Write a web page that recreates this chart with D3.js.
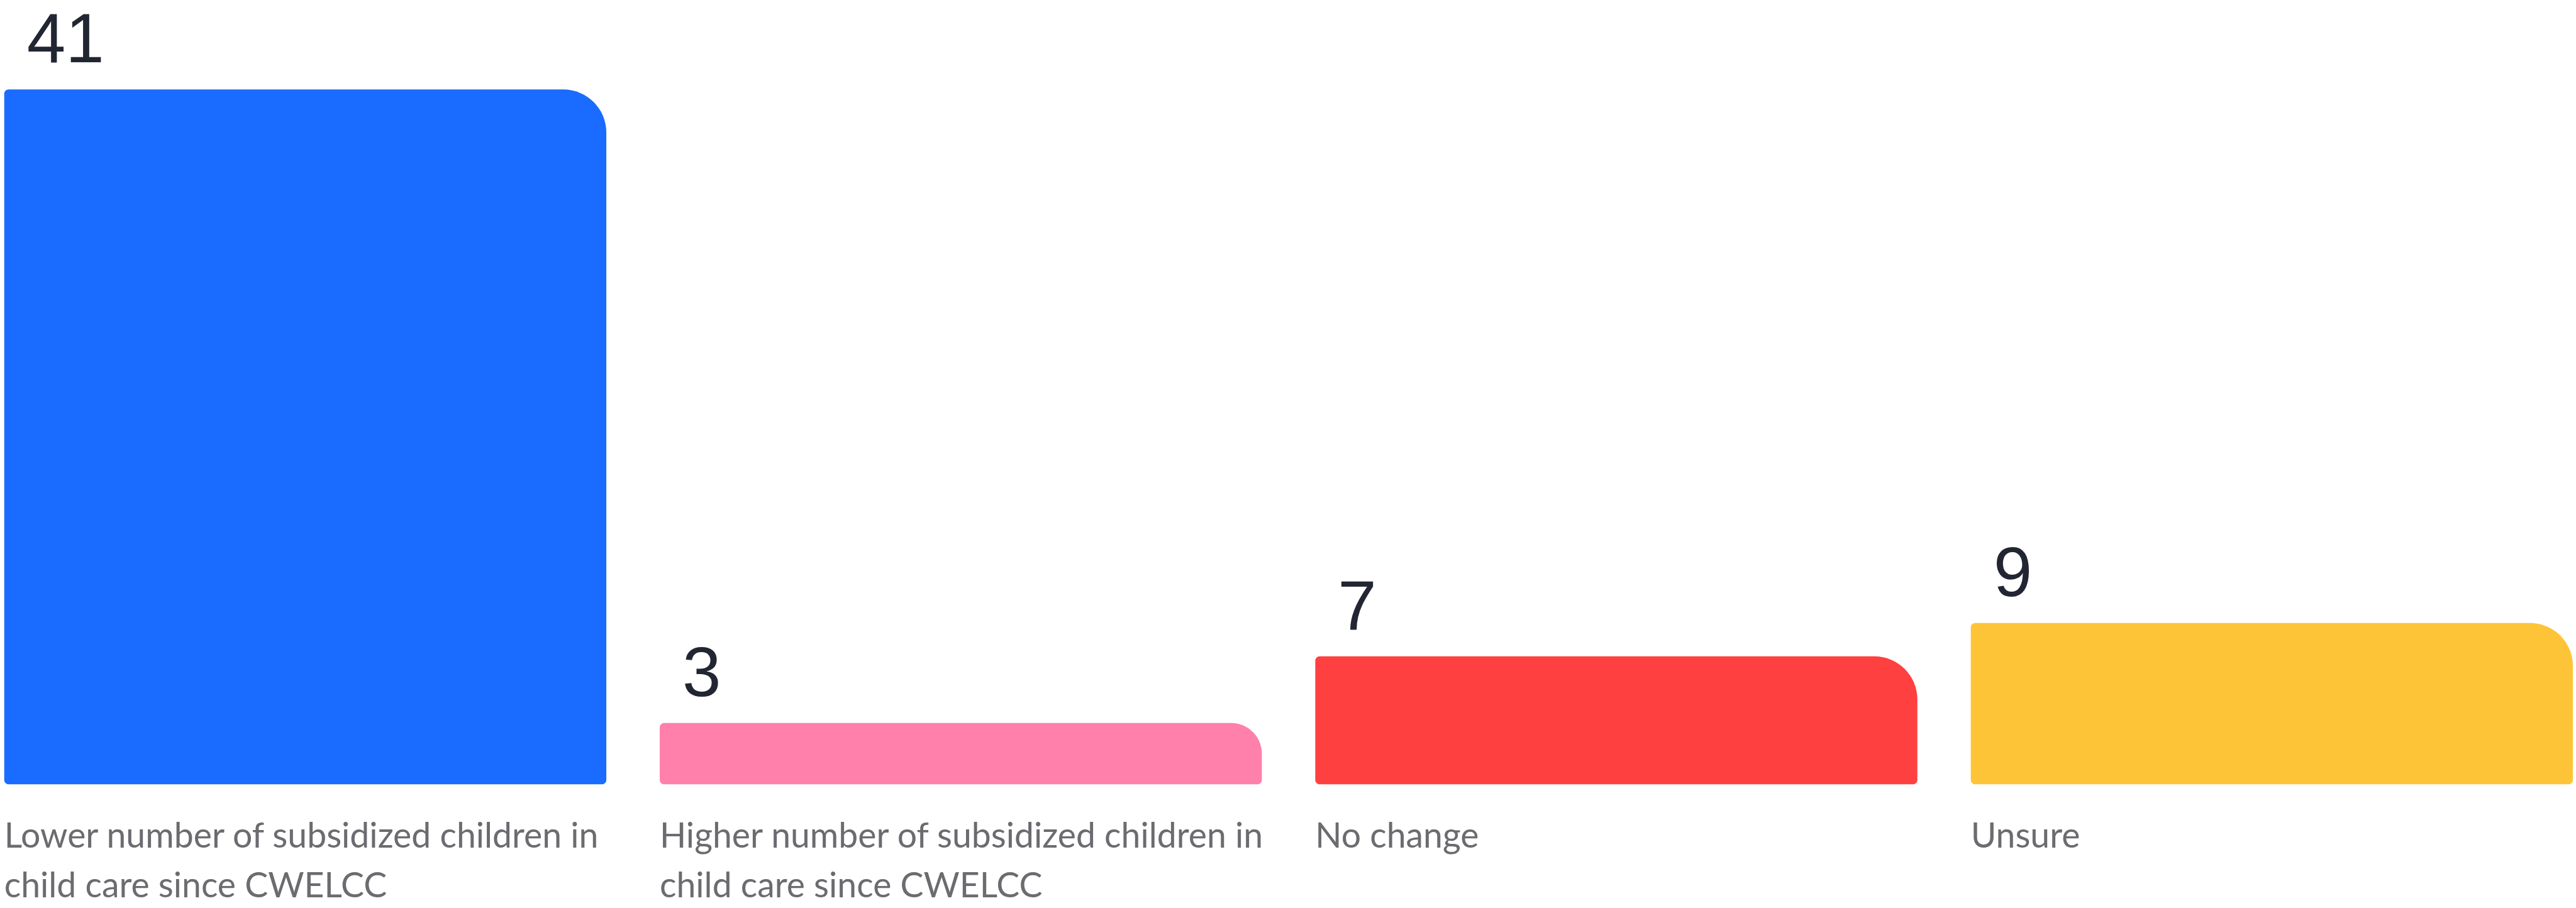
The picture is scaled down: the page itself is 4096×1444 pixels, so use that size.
<!DOCTYPE html>
<html>
<head>
<meta charset="utf-8">
<script src="https://cdn.jsdelivr.net/npm/d3@7"></script>
<style>
  html, body { margin: 0; padding: 0; background: #ffffff; overflow: hidden; }
  svg { display: block; }
</style>
</head>
<body>
<svg id="chart"></svg>
<script>
// ---- data ----
const categories = [
  "Lower number of subsidized children in child care since CWELCC",
  "Higher number of subsidized children in child care since CWELCC",
  "No change",
  "Unsure"
];
const categoryLines = [
  ["Lower number of subsidized children in", "child care since CWELCC"],
  ["Higher number of subsidized children in", "child care since CWELCC"],
  ["No change"],
  ["Unsure"]
];
const values = [41, 3, 7, 9];
const colors = ["#1a6bff", "#ff80aa", "#ff4040", "#fec437"];

// ---- layout (reference pixel space, scaled by viewBox) ----
const W = 4662, H = 1644;
const svg = d3.select("#chart")
  .attr("width", 4096).attr("height", 1444)
  .attr("viewBox", `0 0 ${W} ${H}`);

const x = d3.scaleBand()
  .domain(categories)
  .range([7, 4657])
  .paddingInner(0.0815)
  .paddingOuter(0);

const y = d3.scaleLinear()
  .domain([-0.68, 41])
  .range([1420, 162]);

const data = categories.map((c, i) => ({ c, v: values[i], color: colors[i], lines: categoryLines[i] }));

const g = svg.append("g");

g.selectAll("path.bar")
  .data(data)
  .join("path")
  .attr("class", "bar")
  .attr("fill", d => d.color)
  .attr("d", d => {
    const x0 = x(d.c), x1 = x(d.c) + x.bandwidth();
    const yTop = y(d.v), yBot = y(y.domain()[0]);
    const k = 1 - 0.5523;
    const rt = Math.min(78, (yBot - yTop) / 2), r = 8;
    return `M${x0},${yTop + r}
            C${x0},${yTop + r * 0.45} ${x0 + r * 0.45},${yTop} ${x0 + r},${yTop}
            L${x1 - rt},${yTop}
            C${x1 - rt * k},${yTop} ${x1},${yTop + rt * k} ${x1},${yTop + rt}
            L${x1},${yBot - r}
            C${x1},${yBot - r * 0.45} ${x1 - r * 0.45},${yBot} ${x1 - r},${yBot}
            L${x0 + r},${yBot}
            C${x0 + r * 0.45},${yBot} ${x0},${yBot - r * 0.45} ${x0},${yBot - r} Z`;
  });

// value labels
g.selectAll("text.value")
  .data(data)
  .join("text")
  .attr("class", "value")
  .attr("x", d => x(d.c) + 41)
  .attr("y", d => y(d.v) - 49)
  .attr("font-family", "'Liberation Sans', Arial, sans-serif")
  .attr("font-size", 126)
  .attr("fill", "#222633")
  .text(d => d.v);

// category labels
const lab = g.selectAll("text.cat")
  .data(data)
  .join("text")
  .attr("class", "cat")
  .attr("y", 1535)
  .attr("font-family", "Lato, 'Open Sans', sans-serif")
  .attr("font-size", 63)
  .attr("fill", "#6b6b70");

lab.selectAll("tspan")
  .data(d => d.lines.map((t, j) => ({ t, j, x: x(d.c) })))
  .join("tspan")
  .attr("x", t => t.x)
  .attr("y", t => 1535 + t.j * 90)
  .text(t => t.t);
</script>
</body>
</html>
